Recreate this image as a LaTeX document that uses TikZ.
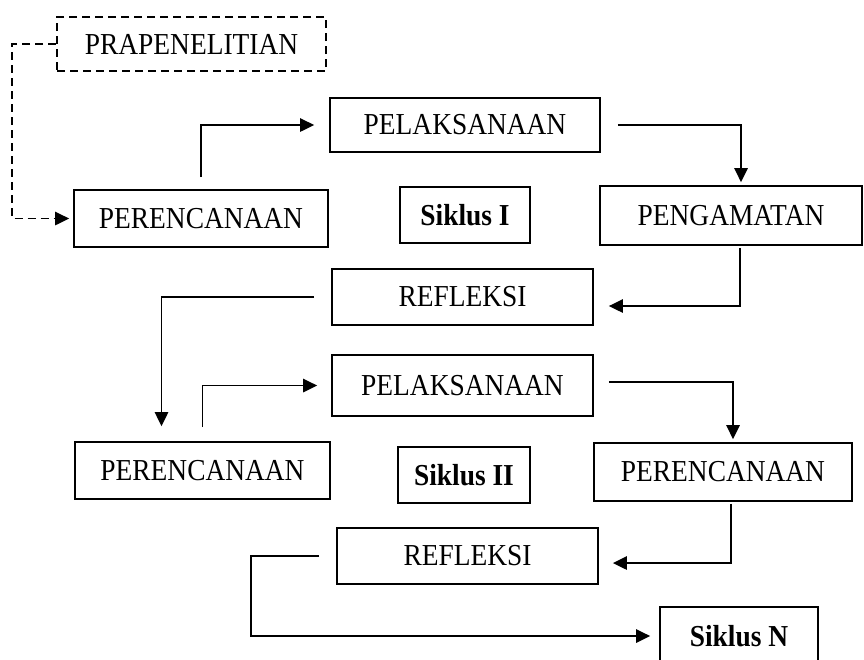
\documentclass[tikz,border=0pt]{standalone}
\usepackage{fontspec}
\setmainfont{Liberation Serif}[FakeStretch=0.9]
\usetikzlibrary{arrows.meta}
\tikzstyle{process} = [rectangle, draw=black, line width=1.5pt, inner sep=0pt, text centered, font=\fontsize{26}{30}\selectfont]
\tikzstyle{prepare} = [process, dash pattern=on 2.4mm off 1.5mm]
\tikzstyle{cycle} = [process, font=\fontsize{26}{30}\selectfont\bfseries]
\tikzstyle{arrow} = [line width=1.6pt, -{Triangle[length=4.2mm, width=4mm]}]
\tikzstyle{dasharrow} = [arrow, dash pattern=on 2.4mm off 1.5mm]

\begin{document}
\begin{tikzpicture}[x=0.3mm, y=-0.3mm]
    \useasboundingbox (0,0) rectangle (864,659);
    \clip (0,0) rectangle (864,659);

    \node (pra)  [prepare, minimum width=80.7mm, minimum height=16.2mm] at (191.5,44)  {PRAPENELITIAN};

    % siklus I
    \node (per1) [process, minimum width=76.2mm, minimum height=17.1mm] at (201,218.5) {PERENCANAAN};
    \node (pel1) [process, minimum width=81mm,   minimum height=16.2mm] at (465,125)   {PELAKSANAAN};
    \node (sik1) [cycle,   minimum width=39mm,   minimum height=16.8mm] at (465,215)   {Siklus I};
    \node (peng) [process, minimum width=78.6mm, minimum height=17.7mm] at (731,215.5) {PENGAMATAN};
    \node (ref1) [process, minimum width=78.3mm, minimum height=16.8mm] at (462.5,297) {REFLEKSI};

    % siklus II
    \node (pel2) [process, minimum width=78.3mm, minimum height=18.3mm] at (462.5,385.5) {PELAKSANAAN};
    \node (per2) [process, minimum width=76.5mm, minimum height=17.1mm] at (202.5,470.5) {PERENCANAAN};
    \node (sik2) [cycle,   minimum width=39.6mm, minimum height=16.8mm] at (464,475)     {Siklus II};
    \node (per3) [process, minimum width=77.4mm, minimum height=17.4mm] at (723,472)     {PERENCANAAN};
    \node (ref2) [process, minimum width=78.3mm, minimum height=16.8mm] at (467.5,556)   {REFLEKSI};
    \node (sikN) [cycle,   minimum width=47.4mm, minimum height=17.4mm] at (739,636)     {Siklus N};

    \draw [dasharrow, shorten >=1.2mm] (pra.west) -- ++(-44,0) |- (per1.west);
    \draw [arrow, shorten <=3.6mm, shorten >=4.5mm] (per1.north) |- (pel1.west);
    \draw [arrow, shorten <=5.1mm, shorten >=0.9mm] (pel1.east) -| ([xshift=3mm]peng.north);
    \draw [arrow, shorten <=0.6mm, shorten >=4.5mm] ([xshift=2.7mm]peng.south) |- ([yshift=-2.7mm]ref1.east);
    \draw [arrow, shorten <=5.1mm, shorten >=4.5mm] (ref1.west) -| ([xshift=-12.3mm]per2.north);
    \draw [arrow, shorten <=4.2mm, shorten >=4.2mm] (per2.north) |- (pel2.west);
    \draw [arrow, shorten <=4.5mm, shorten >=0.9mm] ([yshift=1mm]pel2.east) -| ([xshift=3mm]per3.north);
    \draw [arrow, shorten <=0.6mm, shorten >=4.2mm] ([xshift=2.4mm]per3.south) |- ([yshift=-2.1mm]ref2.east);
    \draw [arrow, shorten <=5.1mm, shorten >=2.7mm] (ref2.west) -- ++(-85,0) |- (sikN.west);

\end{tikzpicture}
\end{document}
